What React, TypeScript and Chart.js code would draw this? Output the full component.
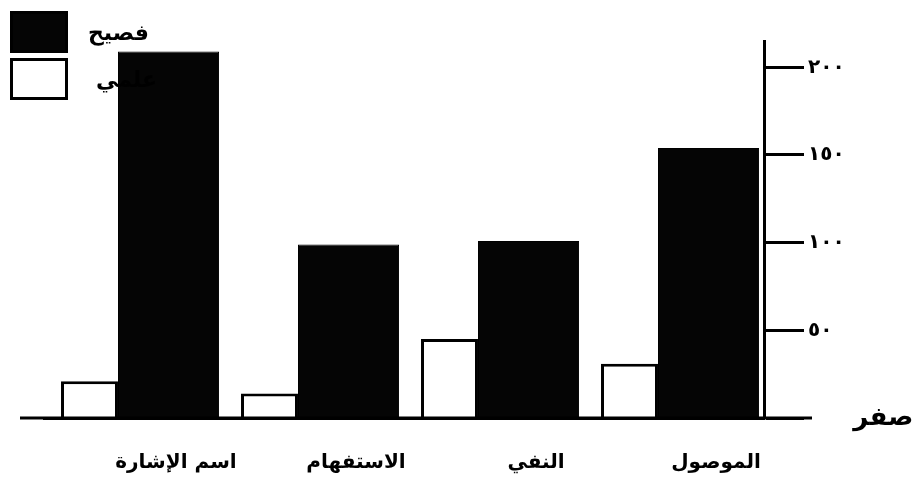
import React, { useEffect, useRef } from 'react';
import { Chart, registerables } from 'chart.js';

Chart.register(...registerables);

// ---- data ----
const categories = ['اسم الإشارة', 'الاستفهام', 'النفي', 'الموصول'];
const seriesAmmiName = 'علمي';
const seriesFasihName = 'فصيح';
const ammiValues = [21, 14, 45, 31];
const fasihValues = [209, 99, 101, 154];
const tickValues = [0, 50, 100, 150, 200];
const tickLabels = ['صفر', '٥٠', '١٠٠', '١٥٠', '٢٠٠'];

const FONT = "'DejaVu Sans', sans-serif";

const baselinePlugin = {
  id: 'baselineExt',
  afterDraw(chart: any) {
    const { ctx, chartArea } = chart;
    const y = chart.scales.y.getPixelForValue(0);
    ctx.save();
    ctx.strokeStyle = '#000';
    ctx.lineWidth = 3;
    ctx.beginPath();
    ctx.moveTo(chartArea.left - 24, y);
    ctx.lineTo(chartArea.right + 48, y);
    ctx.stroke();
    ctx.restore();
  },
};

export default function App() {
  const ref = useRef<HTMLCanvasElement | null>(null);

  useEffect(() => {
    if (!ref.current) return;
    const chart = new Chart(ref.current, {
      type: 'bar',
      data: {
        labels: categories,
        datasets: [
          {
            label: seriesAmmiName,
            data: ammiValues,
            backgroundColor: '#ffffff',
            borderColor: '#000000',
            borderWidth: 3,
            categoryPercentage: 0.989,
            barPercentage: 0.64,
          },
          {
            label: seriesFasihName,
            data: fasihValues,
            backgroundColor: '#050505',
            borderColor: '#000000',
            borderWidth: 1,
            categoryPercentage: 0.767,
            barPercentage: 1.464,
          },
        ],
      },
      options: {
        responsive: false,
        animation: false,
        devicePixelRatio: 1,
        layout: { padding: { top: 41, left: 44, right: 0, bottom: 0 } },
        plugins: {
          legend: { display: false },
          tooltip: { enabled: false },
        },
        scales: {
          x: {
            grid: { display: false, drawTicks: false },
            border: { display: true, color: '#000', width: 3 },
            ticks: {
              color: '#000',
              padding: 33,
              labelOffset: 42,
              maxRotation: 0,
              font: { family: FONT, size: 20, weight: 'bold' },
            },
            afterFit(scale: any) {
              scale.height = 69;
            },
          },
          y: {
            position: 'right',
            min: 0,
            max: 215,
            grid: {
              display: true,
              drawOnChartArea: false,
              drawTicks: true,
              tickLength: 40,
              tickWidth: 3,
              tickColor: '#000',
            },
            border: { display: true, color: '#000', width: 3 },
            ticks: {
              stepSize: 50,
              includeBounds: false,
              color: '#000',
              padding: 4,
              font: (ctx: any) =>
                ctx.tick && ctx.tick.value === 0
                  ? { family: FONT, size: 26, weight: 'bold' }
                  : { family: FONT, size: 20, weight: 'bold' },
              callback: (value: any) => {
                const i = tickValues.indexOf(Number(value));
                if (i < 0) return '';
                return i === 0 ? '     ' + tickLabels[0] : tickLabels[i];
              },
            },
            afterFit(scale: any) {
              scale.width = 150;
            },
          },
        },
      } as any,
      plugins: [baselinePlugin],
    });
    return () => chart.destroy();
  }, []);

  const legendItems = [
    { label: seriesFasihName, fill: '#050505' },
    { label: seriesAmmiName, fill: '#ffffff' },
  ];

  return (
    <div style={{ position: 'absolute', left: 0, top: 0, width: 914, height: 487, background: '#fff' }}>
      <canvas ref={ref} width={914} height={487} style={{ display: 'block' }} />
      <div style={{ position: 'absolute', left: 10, top: 9, fontFamily: FONT }}>
        {legendItems.map((it, i) => (
          <div key={i} style={{ display: 'flex', alignItems: 'center', height: 46, marginBottom: 1 }}>
            <div
              style={{
                width: 52,
                height: 36,
                background: it.fill,
                border: '3px solid #000',
                boxSizing: 'content-box',
              }}
            />
            <span style={{ marginLeft: 20 + i * 8, fontSize: 22, fontWeight: 'bold', color: '#000', direction: 'rtl' }}>
              {it.label}
            </span>
          </div>
        ))}
      </div>
    </div>
  );
}
